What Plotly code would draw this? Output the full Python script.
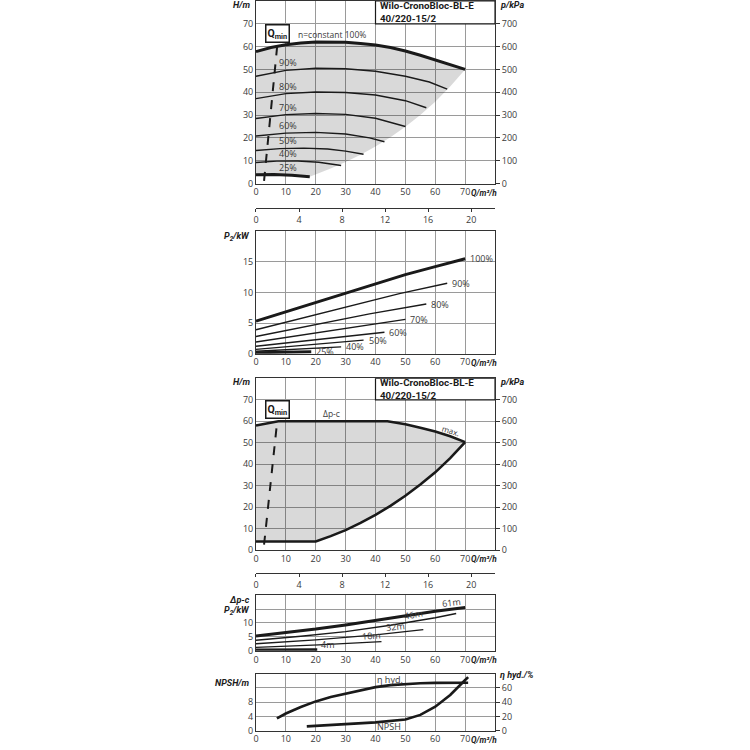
import numpy as np
import plotly.graph_objects as go

# ------------------------------
# curve data
# panel 1: H/m over Q/m3/h for several speeds
q100 = [0, 5, 10, 15, 20, 25, 30, 35, 40, 45, 50, 55, 60, 65, 70]
h100 = [57.8, 59.6, 60.8, 61.6, 62.0, 62.1, 61.9, 61.4, 60.7, 59.6, 58.1, 56.2, 54.2, 52.2, 50.0]
q90 = [0, 10, 20, 30, 40, 50, 58, 64]
h90 = [47.0, 49.6, 50.5, 50.3, 49.2, 47.0, 44.5, 41.4]
q80 = [0, 10, 20, 30, 40, 50, 57]
h80 = [37.2, 39.4, 40.1, 39.9, 38.8, 36.3, 33.2]
q70 = [0, 10, 20, 30, 40, 50]
h70 = [28.5, 30.2, 30.7, 30.3, 28.6, 25.0]
q60 = [0, 10, 20, 30, 38, 43]
h60 = [20.8, 22.1, 22.4, 21.7, 20.0, 18.3]
q50 = [0, 8, 16, 24, 30, 36]
h50 = [14.5, 15.3, 15.5, 15.1, 14.2, 12.8]
q40 = [0, 7, 14, 21, 28.5]
h40 = [9.2, 9.8, 9.9, 9.3, 7.9]
q25 = [0, 6, 12, 18]
h25 = [3.8, 3.9, 3.6, 3.0]
# right edge of the working range (grey area)
q_edge = [18, 25, 30, 35, 40, 45, 50, 55, 60, 65, 70]
h_edge = [3.0, 6.6, 9.4, 12.6, 16.2, 20.3, 24.9, 30.0, 35.8, 42.5, 50.0]
speed_labels = ["100%", "90%", "80%", "70%", "60%", "50%", "40%", "25%"]
qmin_q = [2.7, 7.3]
qmin_h = [1.2, 63.0]

# panel 2: P2/kW
p100_q = [0, 10, 20, 30, 40, 50, 60, 70]
p100 = [5.3, 6.8, 8.3, 9.8, 11.4, 12.9, 14.2, 15.5]
p90_q = [0, 16, 32, 48, 64]
p90 = [3.9, 5.9, 7.9, 9.8, 11.5]
p80_q = [0, 19, 38, 57]
p80 = [2.8, 4.7, 6.5, 8.1]
p70_q = [0, 25, 50]
p70 = [1.9, 3.8, 5.6]
p60_q = [0, 21.5, 43]
p60 = [1.2, 2.4, 3.5]
p50_q = [0, 18, 36]
p50 = [0.7, 1.5, 2.2]
p40_q = [0, 14, 28.5]
p40 = [0.4, 0.8, 1.1]
p25_q = [0, 9, 18.5]
p25 = [0.15, 0.22, 0.3]

# panel 3: delta-p-c working range
dpc_top_q = [0, 7.5, 44, 50, 55, 60, 65, 70]
dpc_top_h = [58.0, 60.0, 60.0, 58.6, 57.0, 55.2, 53.0, 50.3]
dpc_bot_q = [0, 20, 25, 30, 35, 40, 45, 50, 55, 60, 65, 70]
dpc_bot_h = [4.0, 4.0, 6.5, 9.3, 12.7, 16.4, 20.6, 25.3, 30.5, 36.2, 42.8, 50.3]
qmin3_q = [2.7, 7.1]
qmin3_h = [2.5, 60.0]

# panel 4: delta-p-c power
d61_q = [0, 10, 20, 30, 40, 50, 60, 70]
d61 = [5.3, 6.5, 7.8, 9.3, 11.0, 12.7, 14.2, 15.6]
d46_q = [0, 15, 30, 45, 60, 67]
d46 = [3.8, 5.2, 6.9, 9.2, 11.9, 13.4]
d32_q = [0, 20, 40, 56]
d32 = [2.5, 3.9, 5.7, 7.6]
d18_q = [0, 21, 42]
d18 = [1.2, 2.1, 3.3]
d4_q = [0, 10, 20.5]
d4 = [0.3, 0.3, 0.35]
dpc_labels = ["61m", "46m", "32m", "18m", "4m"]

# panel 5: NPSH and hydraulic efficiency
eta_q = [7, 10, 15, 20, 25, 30, 35, 40, 45, 50, 55, 60, 65, 71]
eta = [17, 24, 33, 41, 47, 52, 57, 61, 63.8, 65.6, 66.5, 67.0, 67.2, 67.2]
npsh_q = [17, 20, 30, 40, 50, 55, 60, 65, 70, 71]
npsh = [1.2, 1.35, 1.8, 2.3, 3.1, 4.4, 6.7, 10.0, 14.2, 15.0]

q_ticks = [0, 10, 20, 30, 40, 50, 60, 70]
ls_ticks = [0, 4, 8, 12, 16, 20]
h_ticks = [0, 10, 20, 30, 40, 50, 60, 70]
kpa_ticks = [0, 100, 200, 300, 400, 500, 600, 700]
# ------------------------------

FONT = "Open Sans, Noto Sans, sans-serif"
NARROW = "Roboto, Open Sans, sans-serif"
INK = "#1a1a1a"
GRID = "#9a9a9a"
TXT = "#3a3a3a"
SHADE = "rgba(0,0,0,0.15)"


def ydom(top_px, bottom_px):
    return [1 - bottom_px / 750, 1 - top_px / 750]


XDOM = [254 / 750, 494 / 750]

fig = go.Figure()


def curve(q, v, xa, ya, width=1.3, dash=None):
    fig.add_trace(go.Scatter(x=q, y=v, xaxis=xa, yaxis=ya, mode="lines",
                             line=dict(color=INK, width=width, dash=dash),
                             hoverinfo="skip", showlegend=False))


def ghost(xa, ya):
    # invisible point so that overlay axes get drawn
    fig.add_trace(go.Scatter(x=[0], y=[0], xaxis=xa, yaxis=ya, mode="markers",
                             marker=dict(opacity=0), hoverinfo="skip", showlegend=False))


# ---- panel 1
fig.add_trace(go.Scatter(x=q100 + q_edge[::-1] + q25[::-1], y=h100 + h_edge[::-1] + h25[::-1],
                         xaxis="x", yaxis="y", mode="lines", fill="toself", fillcolor=SHADE,
                         line=dict(width=0), hoverinfo="skip", showlegend=False))
curve(q100, h100, "x", "y", 3)
for q, h in [(q90, h90), (q80, h80), (q70, h70), (q60, h60), (q50, h50), (q40, h40)]:
    curve(q, h, "x", "y", 1.4)
curve(q25, h25, "x", "y", 3)
curve(qmin_q, qmin_h, "x", "y", 2, "dash")
ghost("x2", "y")
ghost("x", "y2")

# ---- panel 2
curve(p100_q, p100, "x3", "y3", 3)
for q, p in [(p90_q, p90), (p80_q, p80), (p70_q, p70), (p60_q, p60), (p50_q, p50), (p40_q, p40)]:
    curve(q, p, "x3", "y3", 1.4)
curve(p25_q, p25, "x3", "y3", 3)

# ---- panel 3
fig.add_trace(go.Scatter(x=dpc_top_q + dpc_bot_q[::-1], y=dpc_top_h + dpc_bot_h[::-1],
                         xaxis="x4", yaxis="y4", mode="lines", fill="toself", fillcolor=SHADE,
                         line=dict(width=0), hoverinfo="skip", showlegend=False))
curve(dpc_top_q, dpc_top_h, "x4", "y4", 2.6)
curve(dpc_bot_q, dpc_bot_h, "x4", "y4", 2.6)
curve(qmin3_q, qmin3_h, "x4", "y4", 2, "dash")
ghost("x5", "y4")
ghost("x4", "y5")

# ---- panel 4
curve(d61_q, d61, "x6", "y6", 3)
for q, p in [(d46_q, d46), (d32_q, d32), (d18_q, d18)]:
    curve(q, p, "x6", "y6", 1.4)
curve(d4_q, d4, "x6", "y6", 3)

# ---- panel 5
curve(eta_q, eta, "x7", "y8", 2.6)
curve(npsh_q, npsh, "x7", "y7", 2.6)

# ---- axes
base = dict(showline=True, linecolor="#333333", linewidth=1, mirror=True,
            showgrid=True, gridcolor=GRID, gridwidth=1, zeroline=False, ticks="",
            tickfont=dict(size=9, color=TXT, family=FONT), fixedrange=True)


def xax(anchor):
    return dict(base, domain=XDOM, range=[0, 80], tickvals=q_ticks, anchor=anchor)


def yax(anchor, dom, rng, tv, tt=None):
    d = dict(base, domain=dom, range=rng, tickvals=tv, anchor=anchor)
    if tt is not None:
        d["ticktext"] = tt
    return d


def ls_axis(over, pos_px):
    return dict(overlaying=over, anchor="free", position=1 - pos_px / 750, range=[0, 80 / 3.6],
                tickvals=ls_ticks, showline=True, linecolor="#333333", linewidth=1,
                showgrid=False, zeroline=False, ticks="outside", ticklen=3, tickcolor="#333333",
                side="bottom", tickfont=dict(size=9, color=TXT, family=FONT), fixedrange=True)


def right_axis(over, anchor, rng, tv):
    return dict(overlaying=over, anchor=anchor, side="right", range=rng, tickvals=tv,
                showline=False, showgrid=False, zeroline=False, ticks="outside", ticklen=4,
                tickcolor="#333333", tickfont=dict(size=9, color=TXT, family=FONT), fixedrange=True)


fig.update_layout(
    xaxis=xax("y"),
    yaxis=yax("x", ydom(1, 185), [0, 80], h_ticks),
    yaxis2=right_axis("y", "x", [0, 800], kpa_ticks),
    xaxis2=ls_axis("x", 210),
    xaxis3=xax("y3"),
    yaxis3=yax("x3", ydom(233, 356.5), [0, 20], [0, 5, 10, 15]),
    xaxis4=xax("y4"),
    yaxis4=yax("x4", ydom(381.4, 554.5), [0, 80], h_ticks),
    yaxis5=right_axis("y4", "x4", [0, 800], kpa_ticks),
    xaxis5=ls_axis("x4", 578),
    xaxis6=xax("y6"),
    yaxis6=yax("x6", ydom(600, 656), [0, 20], [0, 5, 10, 15], ["0", "5", "10", ""]),
    xaxis7=xax("y7"),
    yaxis7=yax("x7", ydom(679, 736.5), [0, 16], [0, 4, 8, 12], ["0", "4", "8", ""]),
    yaxis8=right_axis("y7", "x7", [0, 80], [0, 20, 40, 60]),
)

# ---- texts
ann = []
shapes = []


def axis_label(text, x_px, y_px, anchor):
    ann.append(dict(text="<b><i>%s</i></b>" % text, xref="paper", yref="paper",
                    x=x_px / 750, y=1 - y_px / 750, xanchor=anchor, yanchor="middle",
                    showarrow=False, font=dict(size=9, color=INK, family=NARROW)))


def q_label(xa, ya, text="Q/m³/h", shift=-9):
    ann.append(dict(text="<b><i>%s</i></b>" % text, xref=xa, yref=ya + " domain", x=80, y=0,
                    xanchor="right", yanchor="middle", yshift=shift, xshift=4, showarrow=False,
                    font=dict(size=8.2, color=INK, family=NARROW)))


def note(xa, ya, x, y, text, xanchor="center", yanchor="middle", angle=0, size=9, xshift=0, yshift=0):
    ann.append(dict(text=text, xref=xa, yref=ya, x=x, y=y, xanchor=xanchor, yanchor=yanchor,
                    textangle=angle, showarrow=False, xshift=xshift, yshift=yshift,
                    font=dict(size=size, color=TXT, family=FONT)))


def title_box(xa, ya):
    shapes.append(dict(type="rect", xref=xa, yref=ya, x0=40, x1=80, y0=70, y1=80,
                       fillcolor="white", line=dict(color=INK, width=1.2), layer="above"))
    ann.append(dict(text="<b>Wilo-CronoBloc-BL-E<br>40/220-15/2</b>", xref=xa, yref=ya,
                    x=41.0, y=75, xanchor="left", yanchor="middle", align="left", showarrow=False,
                    font=dict(size=9.8, color=INK, family=NARROW)))


def qmin_box(xa, ya, x, y):
    ann.append(dict(text="<b>Q<sub>min</sub></b>", xref=xa, yref=ya, x=x, y=y, showarrow=False,
                    bgcolor="white", bordercolor=INK, borderwidth=1.5, borderpad=1,
                    font=dict(size=10.5, color=INK, family=NARROW)))


# panel 1
axis_label("H/m", 250, 5, "right")
axis_label("p/kPa", 497, 5, "left")
q_label("x", "y")
q_label("x2", "y", "Q/l/s", -34)
title_box("x", "y")
qmin_box("x", "y", 7.3, 65.6)
note("x", "y", 13.3, 65.2, "n=constant 100%", "left", size=8.5)
for lab, (q, h) in zip(speed_labels[1:], [(q90, h90), (q80, h80), (q70, h70), (q60, h60),
                                          (q50, h50), (q40, h40), (q25, h25)]):
    note("x", "y", 10.8, float(np.interp(10.8, q, h)), lab, "center", "bottom", yshift=-1)

# panel 2
axis_label("P<sub>2</sub>/kW", 250, 239, "right")
q_label("x3", "y3")
for lab, (q, p) in zip(speed_labels, [(p100_q, p100), (p90_q, p90), (p80_q, p80), (p70_q, p70),
                                      (p60_q, p60), (p50_q, p50), (p40_q, p40), (p25_q, p25)]):
    note("x3", "y3", q[-1], p[-1], lab, "left", "middle", xshift=3)

# panel 3
axis_label("H/m", 250, 385, "right")
axis_label("p/kPa", 497, 385, "left")
q_label("x4", "y4")
q_label("x5", "y4", "Q/l/s", -34)
title_box("x4", "y4")
qmin_box("x4", "y4", 7.3, 65.6)
note("x4", "y4", 25.3, 63.5, "Δp-c", size=8.5)
note("x4", "y4", 65.3, 55.9, "max.", angle=17, size=8)

# panel 4
axis_label("Δp-c", 250, 605, "right")
axis_label("P<sub>2</sub>/kW", 250, 616, "right")
q_label("x6", "y6")
for lab, (q, p), xq, ang in zip(dpc_labels, [(d61_q, d61), (d46_q, d46), (d32_q, d32), (d18_q, d18), (d4_q, d4)],
                                [65.3, 52.6, 46.7, 38.7, 24.0], [-6, -10, -6, -4, 0]):
    note("x6", "y6", xq, float(np.interp(xq, q, p)), lab, "center", "bottom", angle=ang, yshift=-3)

# panel 5
axis_label("NPSH/m", 250, 689, "right")
axis_label("η hyd./%", 497, 680, "left")
q_label("x7", "y7")
note("x7", "y8", 44.8, 71.8, "η hyd.")
note("x7", "y7", 44.6, 1.1, "NPSH")

fig.update_layout(
    width=750, height=750,
    margin=dict(l=0, r=0, t=0, b=0),
    paper_bgcolor="white", plot_bgcolor="white",
    font=dict(family=FONT, size=9, color=TXT),
    annotations=ann, shapes=shapes, showlegend=False,
)

fig.write_html("out.html", config={"displayModeBar": False},
               post_script="document.body.style.margin='0';")
